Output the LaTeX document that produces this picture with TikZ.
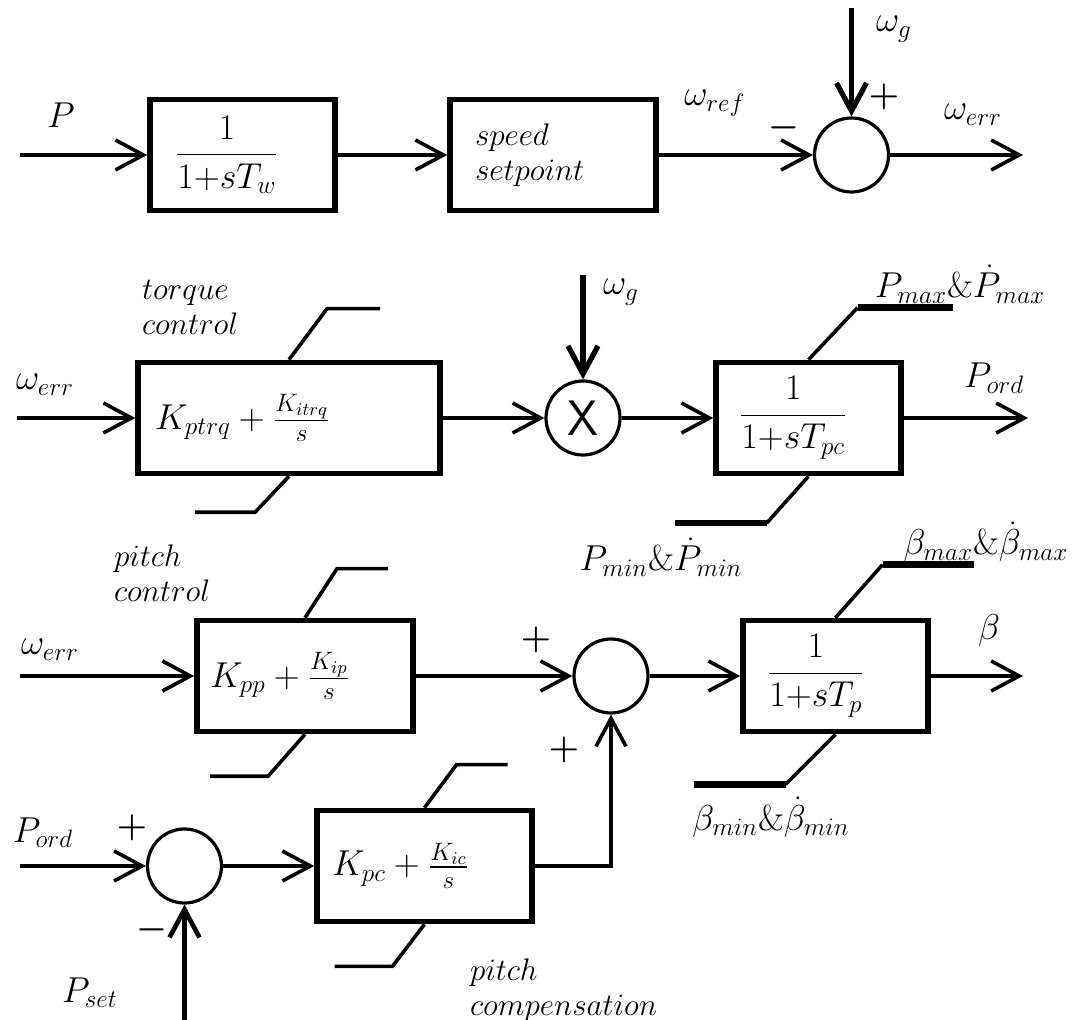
\RequirePackage{fix-cm}
\documentclass[tikz,border=0pt]{standalone}
\usepackage{amsmath}
\usetikzlibrary{positioning, arrows.meta}

\begin{document}
\begin{tikzpicture}[x=0.5pt, y=-0.5pt]

	% Styles
	\tikzset{
		blk/.style={
			rectangle, draw, line width=2.8pt,
			minimum height=55.5pt, inner xsep=0pt, inner ysep=0pt,
			align=left, font=\fontsize{18}{22}\selectfont
		},
		sum/.style={circle, draw, line width=1.6pt, minimum size=37pt, inner sep=0pt},
		arrow/.style={line width=1.8pt, -{Straight Barb[length=14pt, width=15pt]}},
		feed/.style={arrow, line width=2.6pt},
		lim/.style={line width=1.8pt},
		limbar/.style={line width=3.2pt},
		sig/.style={font=\fontsize{18}{22}\selectfont, anchor=base, inner sep=0pt},
		word/.style={font=\fontsize{15.6}{17.5}\selectfont, align=left},
		sgn/.style={font=\LARGE\boldmath}
	}

	\useasboundingbox (0,0) rectangle (1076,1020);

	% Speed reference
	\node (tfw) [blk, minimum width=92.5pt, text width=67.5pt] at (242.5,155) {$\dfrac{1}{1{+}sT_w}$};
	\node (spd) [blk, word, minimum width=103pt, text width=78pt] at (553,155) {$speed$\\$setpoint$};
	\node (sum1) [sum] at (851.5,155) {};

	\coordinate (pin) at (20,155);
	\coordinate (wg1) at (851.5,8);
	\coordinate (werr1) at (1023,155);

	\draw[arrow] (pin) -- (tfw.west);
	\draw[arrow] (tfw.east) -- (spd.west);
	\draw[arrow] (spd.east) -- (sum1.west);
	\draw[feed] (wg1) -- (sum1.north);
	\draw[arrow] (sum1.east) -- (werr1);

	\node (lp) [sig] at (61,128) {$P$};
	\node (lwref) [sig] at (715,106) {$\omega_{ref}$};
	\node (lwg1) [sig] at (894,32) {$\omega_g$};
	\node (lwerr1) [sig] at (973,120) {$\omega_{err}$};
	\node (s1p) [sgn] at (884,97) {$+$};
	\node (s1m) [sgn] at (784,128) {$-$};

	% Torque control
	\node (trq) [blk, minimum width=151pt, text width=134pt] at (289,418) {$K_{ptrq}+\frac{K_{itrq}}{s}$};
	\node (mult) [sum] at (583,418) {\Huge\sffamily X};
	\node (tpc) [blk, minimum width=92.5pt, text width=69.5pt] at (808.5,418) {$\dfrac{1}{1{+}sT_{pc}}$};

	\coordinate (werr2) at (17,418);
	\coordinate (wg2) at (583,275);
	\coordinate (pord1) at (1028,418);

	\draw[arrow] (werr2) -- (trq.west);
	\draw[arrow] (trq.east) -- (mult.west);
	\draw[feed] (wg2) -- (mult.north);
	\draw[arrow] (mult.east) -- (tpc.west);
	\draw[arrow] (tpc.east) -- (pord1);

	\draw[lim] (trq.north) -- ++(38,-51) -- ++(53,0);
	\draw[lim] (trq.south) -- ++(-34,36) -- ++(-60,0);
	\draw[lim] (tpc.north) -- ++(49,-52) coordinate (tpchi);
	\draw[limbar] (tpchi) -- ++(95,0);
	\draw[lim] (tpc.south) -- ++(-42,47) coordinate (tpclo);
	\draw[limbar] (tpclo) -- ++(-92,0);

	\node (ltrq) [word, anchor=west] at (135,307) {$torque$\\$control$};
	\node (lwerr2) [sig] at (45,390) {$\omega_{err}$};
	\node (lwg2) [sig] at (621,295) {$\omega_g$};
	\node (lpmax) [sig] at (960,298) {$P_{max}\&\dot{P}_{max}$};
	\node (lpord1) [sig] at (994,388) {$P_{ord}$};
	\node (lpmin) [sig] at (661,571) {$P_{min}\&\dot{P}_{min}$};

	% Pitch control
	\node (ppc) [blk, minimum width=108pt, text width=95pt] at (305,676) {$K_{pp}+\frac{K_{ip}}{s}$};
	\node (sum2) [sum] at (611,676) {};
	\node (tp) [blk, minimum width=92.5pt, text width=68.5pt] at (835.5,676) {$\dfrac{1}{1{+}sT_p}$};

	\coordinate (werr3) at (20,676);
	\coordinate (beta) at (1023,676);

	\draw[arrow] (werr3) -- (ppc.west);
	\draw[arrow] (ppc.east) -- (sum2.west);
	\draw[arrow] (sum2.east) -- (tp.west);
	\draw[arrow] (tp.east) -- (beta);

	\draw[lim] (ppc.north) -- ++(32,-49) -- ++(51,0);
	\draw[lim] (ppc.south) -- ++(-37,42) -- ++(-58,0);
	\draw[lim] (tp.north) -- ++(47,-53) coordinate (tphi);
	\draw[limbar] (tphi) -- ++(91,0);
	\draw[lim] (tp.south) -- ++(-50,50) coordinate (tplo);
	\draw[limbar] (tplo) -- ++(-92,0);

	\node (lppc) [word, anchor=west] at (107,573) {$pitch$\\$control$};
	\node (lwerr3) [sig] at (50,655) {$\omega_{err}$};
	\node (lbmax) [sig] at (986,555) {$\beta_{max}\&\dot{\beta}_{max}$};
	\node (lbeta) [sig] at (989,640) {$\beta$};
	\node (lbmin) [sig] at (771,830) {$\beta_{min}\&\dot{\beta}_{min}$};
	\node (s2a) [sgn] at (536,640) {$+$};
	\node (s2b) [sgn] at (564,750) {$+$};

	% Pitch compensation
	\node (sum3) [sum] at (184.5,866) {};
	\node (pcc) [blk, minimum width=107.5pt, text width=92.5pt] at (424.5,866) {$K_{pc}+\frac{K_{ic}}{s}$};

	\coordinate (pord2) at (20,866);
	\coordinate (pset) at (184.5,1020);

	\draw[arrow] (pord2) -- (sum3.west);
	\draw[arrow, line width=2.3pt] (pset) -- (sum3.south);
	\draw[arrow] (sum3.east) -- (pcc.west);
	\draw[arrow] (pcc.east) -| (sum2.south);

	\draw[lim] (pcc.north) -- ++(32,-43) -- ++(51,0);
	\draw[lim] (pcc.south) -- ++(-32,42) -- ++(-58,0);

	\node (lpord2) [sig] at (43,842) {$P_{ord}$};
	\node (lpset) [sig] at (90,1002) {$P_{set}$};
	\node (s3p) [sgn] at (132,828) {$+$};
	\node (s3m) [sgn] at (152,930) {$-$};
	\node (lpcc) [word, anchor=west] at (463,990) {$pitch$\\$compensation$};

\end{tikzpicture}
\end{document}
